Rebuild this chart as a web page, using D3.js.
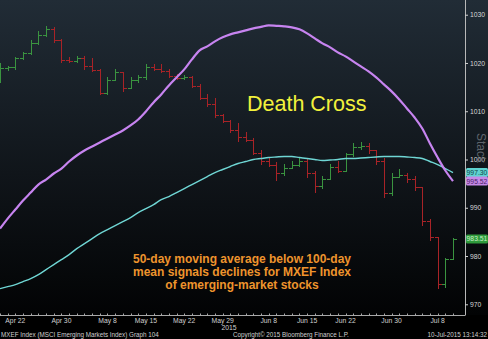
<!DOCTYPE html>
<html>
<head>
<meta charset="utf-8">
<script src="https://cdn.jsdelivr.net/npm/d3@7"></script>
<style>
  html, body { margin: 0; padding: 0; background: #000; }
  svg { display: block; }
</style>
</head>
<body>
<svg id="chart" width="488" height="339"></svg>
<script>
// Trading days (weekdays) shown on the chart
const dates = [
  "2015-04-20","2015-04-21","2015-04-22","2015-04-23","2015-04-24",
  "2015-04-27","2015-04-28","2015-04-29","2015-04-30","2015-05-01",
  "2015-05-04","2015-05-05","2015-05-06","2015-05-07","2015-05-08",
  "2015-05-11","2015-05-12","2015-05-13","2015-05-14","2015-05-15",
  "2015-05-18","2015-05-19","2015-05-20","2015-05-21","2015-05-22",
  "2015-05-25","2015-05-26","2015-05-27","2015-05-28","2015-05-29",
  "2015-06-01","2015-06-02","2015-06-03","2015-06-04","2015-06-05",
  "2015-06-08","2015-06-09","2015-06-10","2015-06-11","2015-06-12",
  "2015-06-15","2015-06-16","2015-06-17","2015-06-18","2015-06-19",
  "2015-06-22","2015-06-23","2015-06-24","2015-06-25","2015-06-26",
  "2015-06-29","2015-06-30","2015-07-01","2015-07-02","2015-07-03",
  "2015-07-06","2015-07-07","2015-07-08","2015-07-09","2015-07-10"
];

// MXEF daily OHLC
const open = [1016.39,1018.88,1019.09,1020.95,1021.99,1024.07,1025.73,1026.97,1024.69,1020.54,
  1020.33,1020.95,1019.29,1018.46,1013.69,1016.39,1018.05,1014.73,1016.39,1017.01,
  1019.09,1018.67,1018.26,1017.22,1016.81,1017.01,1015.15,1012.66,1011.41,1009.13,
  1007.88,1006.02,1004.56,1003.94,1001.45,999.79,998.96,997.30,998.34,998.96,
  999.79,997.30,994.61,996.06,998.55,997.72,1001.04,1002.49,1002.90,1001.87,
  999.79,993.15,996.47,996.89,996.06,994.40,987.34,984.02,974.27,979.46];
const high = [1019.92,1019.29,1021.16,1022.20,1024.69,1026.56,1027.59,1027.39,1024.90,1021.16,
  1021.37,1021.37,1020.95,1018.67,1017.01,1018.67,1018.05,1017.01,1017.43,1019.71,
  1019.71,1019.71,1018.67,1017.63,1017.43,1017.22,1015.56,1013.49,1012.66,1009.34,
  1008.09,1007.47,1005.60,1004.36,1001.87,1000.21,999.38,999.17,999.59,1000.41,
  1000.21,997.72,996.68,999.17,999.79,1001.45,1003.32,1003.53,1003.32,1001.87,
  1000.21,997.10,998.13,997.30,996.68,994.40,987.76,984.02,979.67,983.82];
const low = [1015.77,1018.26,1018.46,1020.54,1021.58,1023.65,1025.31,1024.07,1019.92,1019.92,
  1019.92,1018.46,1018.05,1013.28,1013.28,1016.18,1013.90,1014.52,1015.77,1016.39,
  1018.26,1017.84,1016.81,1016.39,1016.39,1014.73,1012.24,1010.79,1008.51,1007.47,
  1005.39,1003.53,1003.53,1000.83,998.76,998.55,995.64,996.68,997.93,998.55,
  996.27,993.15,993.98,995.85,997.10,997.51,1000.62,1002.07,1001.24,998.76,
  992.12,992.53,996.27,995.23,993.57,986.31,983.19,973.24,973.44,979.25];
const close = [1018.88,1019.09,1020.95,1021.99,1024.07,1025.73,1026.97,1024.69,1020.54,1020.33,
  1020.95,1019.29,1018.46,1013.69,1016.39,1018.05,1014.73,1016.39,1017.01,1019.09,
  1018.67,1018.26,1017.22,1016.81,1017.01,1015.15,1012.66,1011.41,1009.13,1007.88,
  1006.02,1004.56,1003.94,1001.45,999.79,998.96,997.30,998.34,998.96,999.79,
  997.30,994.61,996.06,998.55,997.72,1001.04,1002.49,1002.90,1001.87,999.79,
  993.15,996.47,996.89,996.06,994.40,987.34,984.02,974.27,979.46,983.51];

// 50-day and 100-day moving averages
const ma50 = [985.68,987.76,989.63,991.49,993.15,994.81,995.85,997.10,998.13,999.59,
  1000.83,1001.87,1002.70,1003.53,1004.36,1005.19,1006.02,1007.05,1008.30,1009.96,
  1011.83,1013.49,1015.35,1017.01,1018.67,1020.75,1022.61,1023.44,1024.48,1025.31,
  1025.93,1026.35,1026.76,1027.18,1027.49,1027.80,1027.70,1027.59,1027.39,1026.97,
  1026.14,1025.10,1024.07,1023.24,1022.20,1021.37,1020.33,1019.29,1018.26,1017.01,
  1015.56,1014.11,1012.45,1010.58,1008.71,1006.43,1003.32,1000.41,997.72,995.52];
const ma100 = [973.24,973.65,974.07,974.69,975.31,976.14,977.18,978.22,979.25,980.29,
  981.54,982.57,983.61,984.65,985.48,986.31,987.14,987.97,989.00,989.83,
  990.66,991.70,992.32,993.15,993.98,994.81,995.64,996.47,997.30,997.93,
  998.55,999.17,999.59,1000.00,1000.21,1000.41,1000.52,1000.62,1000.62,1000.41,
  1000.21,1000.00,999.79,999.90,1000.00,1000.21,1000.21,1000.31,1000.41,1000.52,
  1000.62,1000.62,1000.62,1000.52,1000.41,1000.21,999.59,998.96,998.13,997.30];

// Axis ticks
const xTickDates = ["2015-04-22","2015-04-30","2015-05-08","2015-05-15","2015-05-22","2015-05-29",
  "2015-06-08","2015-06-15","2015-06-22","2015-06-30","2015-07-08"];
const xTickLabels = ["Apr 22","Apr 30","May 8","May 15","May 22","May 29",
  "Jun 8","Jun 15","Jun 22","Jun 30","Jul 8"];
const yTicks = [970, 980, 990, 1000, 1010, 1020, 1030];

const noteLines = [
  "50-day moving average below 100-day",
  "mean signals declines for MXEF Index",
  "of emerging-market stocks"
];

const W = 488, H = 339;
const plotRight = 465, plotBottom = 315;

const svg = d3.select("#chart");

// background: slate at the top fading to black
const defs = svg.append("defs");
const grad = defs.append("linearGradient")
  .attr("id", "bg").attr("x1", 0).attr("y1", 0).attr("x2", 0).attr("y2", 1);
grad.append("stop").attr("offset", "0%").attr("stop-color", "#212c36");
grad.append("stop").attr("offset", "55%").attr("stop-color", "#10151a");
grad.append("stop").attr("offset", "100%").attr("stop-color", "#020304");
svg.append("rect").attr("width", W).attr("height", H).attr("fill", "#000");
svg.append("rect").attr("width", W).attr("height", plotBottom).attr("fill", "url(#bg)");

const x = d3.scalePoint().domain(dates).range([0, 453]);
const y = d3.scaleLinear().domain([967.78, 1033.05]).range([plotBottom, 0]);

const plot = svg.append("g");
plot.append("clipPath").attr("id", "clip")
  .append("rect").attr("x", 0).attr("y", 0).attr("width", plotRight).attr("height", plotBottom);

const bars = plot.append("g").attr("clip-path", "url(#clip)");
const ohlc = dates.map((d, i) => ({ d, o: open[i], h: high[i], l: low[i], c: close[i] }));
const colorOf = b => b.c >= b.o ? "#3a9440" : "#a82327";

const g = bars.selectAll("g.bar").data(ohlc).join("g").attr("class", "bar")
  .attr("stroke", colorOf).attr("stroke-width", 1).attr("shape-rendering", "crispEdges");
g.append("line")
  .attr("x1", b => Math.round(x(b.d)) + 0.5).attr("x2", b => Math.round(x(b.d)) + 0.5)
  .attr("y1", b => y(b.h)).attr("y2", b => y(b.l));
g.append("line")
  .attr("x1", b => Math.round(x(b.d)) - 3).attr("x2", b => Math.round(x(b.d)) + 0.5)
  .attr("y1", b => Math.round(y(b.o)) + 0.5).attr("y2", b => Math.round(y(b.o)) + 0.5);
g.append("line")
  .attr("x1", b => Math.round(x(b.d)) + 0.5).attr("x2", b => Math.round(x(b.d)) + 4)
  .attr("y1", b => Math.round(y(b.c)) + 0.5).attr("y2", b => Math.round(y(b.c)) + 0.5);

// moving averages
const line = d3.line().x((v, i) => x(dates[i])).y(v => y(v)).curve(d3.curveMonotoneX);
bars.append("path").datum(ma100).attr("d", line)
  .attr("fill", "none").attr("stroke", "#6fd6d4").attr("stroke-width", 1.4);
bars.append("path").datum(ma50).attr("d", line)
  .attr("fill", "none").attr("stroke", "#c784f0").attr("stroke-width", 2.2);

// annotations
svg.append("text").attr("x", 247).attr("y", 111)
  .attr("font-family", "Liberation Sans, Arial, sans-serif").attr("font-size", 21.5)
  .attr("fill", "#f2f23c").text("Death Cross");

svg.append("g").selectAll("text").data(noteLines).join("text")
  .attr("x", 242).attr("y", (d, i) => 263 + i * 13)
  .attr("text-anchor", "middle")
  .attr("font-family", "Liberation Sans, Arial, sans-serif").attr("font-size", 12)
  .attr("font-weight", "bold").attr("fill", "#ee942d").text(d => d);

// right axis
const axisFont = "Liberation Sans, Arial, sans-serif";
svg.append("line").attr("x1", plotRight + 0.5).attr("x2", plotRight + 0.5)
  .attr("y1", 0).attr("y2", plotBottom + 0.5).attr("stroke", "#b8b8b8").attr("stroke-width", 1);
const yAxis = svg.append("g").attr("transform", `translate(${plotRight},0)`)
  .call(d3.axisRight(y).tickValues(yTicks).tickSize(3).tickPadding(2).tickFormat(d3.format("d")));
yAxis.select(".domain").remove();
yAxis.selectAll("line").attr("stroke", "#d0d0d0");
yAxis.selectAll("text").attr("fill", "#d6d6d6").attr("font-family", axisFont).attr("font-size", 6.8);

// "Stack" side label
svg.append("text").attr("transform", "translate(477,133) rotate(90)")
  .attr("font-family", "Liberation Sans, Arial, sans-serif").attr("font-size", 12)
  .attr("fill", "#5d646b").text("Stack");

// last-value tags
const tags = [
  { v: ma100[ma100.length - 1], fill: "#5fd2d0", text: "#12464a" },
  { v: ma50[ma50.length - 1], fill: "#c68ae8", text: "#4b1f66" },
  { v: close[close.length - 1], fill: "#2f9a3c", text: "#c6f0c6" }
];
const tg = svg.append("g").selectAll("g").data(tags).join("g")
  .attr("transform", t => `translate(${plotRight + 1},${y(t.v)})`);
tg.append("rect").attr("x", 0).attr("y", -4.5).attr("width", 22).attr("height", 9)
  .attr("rx", 1.5).attr("fill", t => t.fill);
tg.append("text").attr("x", 11).attr("y", 2.4).attr("text-anchor", "middle")
  .attr("font-family", axisFont).attr("font-size", 6.8).attr("fill", t => t.text)
  .text(t => d3.format(".2f")(t.v));

// bottom axis
svg.append("line").attr("x1", 0).attr("x2", plotRight).attr("y1", plotBottom + 0.5).attr("y2", plotBottom + 0.5)
  .attr("stroke", "#a8a8a8");
svg.append("g").selectAll("line").data(dates).join("line")
  .attr("x1", d => Math.round(x(d)) + 0.5).attr("x2", d => Math.round(x(d)) + 0.5)
  .attr("y1", plotBottom - 1.5).attr("y2", plotBottom)
  .attr("stroke", "#a8a8a8");
svg.append("g").selectAll("text").data(xTickDates).join("text")
  .attr("x", d => x(d)).attr("y", 323).attr("text-anchor", "middle")
  .attr("font-family", axisFont).attr("font-size", 6.8).attr("fill", "#d0d0d0")
  .text((d, i) => xTickLabels[i]);
svg.append("text").attr("x", 229).attr("y", 330).attr("text-anchor", "middle")
  .attr("font-family", axisFont).attr("font-size", 6.8).attr("fill", "#d0d0d0").text("2015");

// footer
const foot = svg.append("g").attr("font-family", axisFont).attr("font-size", 6.3).attr("fill", "#cfcfcf");
foot.append("text").attr("x", 1).attr("y", 337).text("MXEF Index (MSCI Emerging Markets Index) Graph 104");
foot.append("text").attr("x", 233).attr("y", 337).text("Copyright\u00a9 2015 Bloomberg Finance L.P.");
foot.append("text").attr("x", 487).attr("y", 337).attr("text-anchor", "end").text("10-Jul-2015 13:14:32");
</script>
</body>
</html>
